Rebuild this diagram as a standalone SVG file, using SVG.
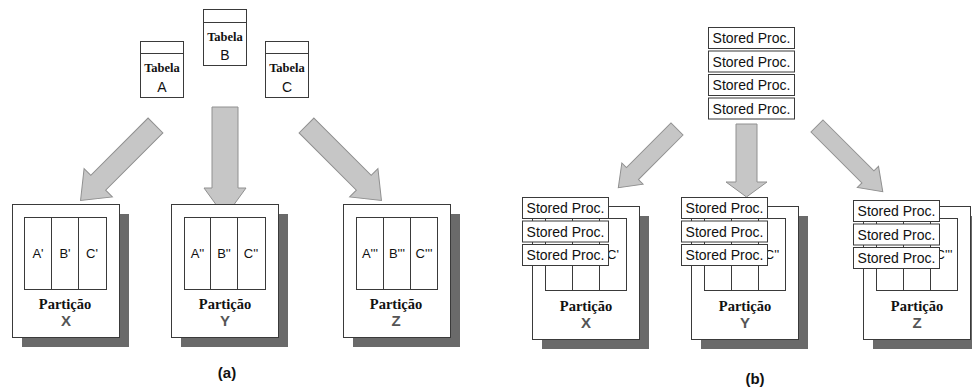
<svg xmlns="http://www.w3.org/2000/svg" width="972" height="388" viewBox="0 0 972 388">
  <style>
    .box { fill: #ffffff; stroke: #3a3a3a; stroke-width: 1; }
    .shadow { fill: #6a6a6a; stroke: none; }
    .line { stroke: #3a3a3a; stroke-width: 1; fill: none; }
    .arrow { fill: #c6c6c6; stroke: #909090; stroke-width: 1; }
    .tab { font-family: "Liberation Serif", "Times New Roman", serif; font-weight: bold; font-size: 12.5px; fill: #111; text-anchor: middle; }
    .letter { font-family: "Liberation Sans", Arial, sans-serif; font-size: 14px; fill: #111; text-anchor: middle; }
    .col { font-family: "Liberation Sans", Arial, sans-serif; font-size: 13px; fill: #111; text-anchor: middle; }
    .part { font-family: "Liberation Serif", "Times New Roman", serif; font-weight: bold; font-size: 14.5px; fill: #111; text-anchor: middle; }
    .pid { font-family: "Liberation Sans", Arial, sans-serif; font-weight: bold; font-size: 15px; fill: #555; text-anchor: middle; }
    .sp { font-family: "Liberation Sans", Arial, sans-serif; font-size: 14px; fill: #111; text-anchor: middle; }
    .cap { font-family: "Liberation Sans", Arial, sans-serif; font-weight: bold; font-size: 15px; fill: #111; text-anchor: middle; }
  </style>
  <rect width="972" height="388" fill="#ffffff"/>

  <!-- (a) connectors: table arrows -->
  <g id="connectors-a">
    <polygon class="arrow" transform="translate(155.5,125.5) rotate(135)" points="0,-10.5 81,-10.5 81,-20 106,0 81,20 81,10.5 0,10.5"/>
    <polygon class="arrow" points="212,107 238,107 238,188 246,188 225,217 204,188 212,188"/>
    <polygon class="arrow" transform="translate(306.5,125.5) rotate(45)" points="0,-10.5 81,-10.5 81,-20 106,0 81,20 81,10.5 0,10.5"/>
  </g>

  <!-- (a) tables -->
  <g id="tabela-a">
    <rect class="box" x="140.5" y="41.5" width="43" height="56"/>
    <line class="line" x1="140.5" y1="53.5" x2="183.5" y2="53.5"/>
    <text class="tab" x="162" y="72">Tabela</text>
    <text class="letter" x="162" y="92">A</text>
  </g>
  <g id="tabela-b">
    <rect class="box" x="203.5" y="9.5" width="43" height="56"/>
    <line class="line" x1="203.5" y1="22.5" x2="246.5" y2="22.5"/>
    <text class="tab" x="225" y="41">Tabela</text>
    <text class="letter" x="225" y="60">B</text>
  </g>
  <g id="tabela-c">
    <rect class="box" x="265.5" y="41.5" width="43" height="56"/>
    <line class="line" x1="265.5" y1="53.5" x2="308.5" y2="53.5"/>
    <text class="tab" x="287" y="72">Tabela</text>
    <text class="letter" x="287" y="92">C</text>
  </g>

  <!-- (a) partitions -->
  <g id="particao-x-a">
    <rect class="shadow" x="22" y="214" width="107" height="133"/>
    <rect class="box" x="12.5" y="204.5" width="107" height="133"/>
    <rect class="box" x="24.5" y="217.5" width="82" height="72"/>
    <line class="line" x1="51.5" y1="217.5" x2="51.5" y2="289.5"/>
    <line class="line" x1="78.5" y1="217.5" x2="78.5" y2="289.5"/>
    <text class="col" x="38" y="258">A'</text>
    <text class="col" x="65" y="258">B'</text>
    <text class="col" x="92" y="258">C'</text>
    <text class="part" x="65" y="309">Partição</text>
    <text class="pid" x="66" y="325.5">X</text>
  </g>
  <g id="particao-y-a">
    <rect class="shadow" x="181" y="214" width="107" height="133"/>
    <rect class="box" x="171.5" y="204.5" width="107" height="133"/>
    <rect class="box" x="184.5" y="217.5" width="81" height="72"/>
    <line class="line" x1="210.5" y1="217.5" x2="210.5" y2="289.5"/>
    <line class="line" x1="237.5" y1="217.5" x2="237.5" y2="289.5"/>
    <text class="col" x="197.5" y="258">A''</text>
    <text class="col" x="224" y="258">B''</text>
    <text class="col" x="251" y="258">C''</text>
    <text class="part" x="225" y="309">Partição</text>
    <text class="pid" x="225" y="325.5">Y</text>
  </g>
  <g id="particao-z-a">
    <rect class="shadow" x="353" y="214" width="107" height="133"/>
    <rect class="box" x="343.5" y="204.5" width="107" height="133"/>
    <rect class="box" x="356.5" y="217.5" width="81" height="72"/>
    <line class="line" x1="383.5" y1="217.5" x2="383.5" y2="289.5"/>
    <line class="line" x1="410.5" y1="217.5" x2="410.5" y2="289.5"/>
    <text class="col" x="370" y="258">A'''</text>
    <text class="col" x="397" y="258">B'''</text>
    <text class="col" x="424" y="258">C'''</text>
    <text class="part" x="396" y="309">Partição</text>
    <text class="pid" x="396" y="325.5">Z</text>
  </g>

  <text class="cap" x="227" y="378">(a)</text>

  <!-- (b) connectors: stored procedure arrows -->
  <g id="connectors-b">
    <polygon class="arrow" transform="translate(677,129) rotate(135)" points="0,-8.5 63,-8.5 63,-15 83,0 63,15 63,8.5 0,8.5"/>
    <polygon class="arrow" points="736,124 757,124 757,182 767,182 746.5,197 726,182 736,182"/>
    <polygon class="arrow" transform="translate(817,126) rotate(45)" points="0,-8.5 72,-8.5 72,-15 93,0 72,15 72,8.5 0,8.5"/>
  </g>

  <!-- (b) stored procedure stack -->
  <g id="stored-procs">
    <rect class="box" x="708.5" y="27.5" width="86" height="21"/>
    <text class="sp" x="751.5" y="43">Stored Proc.</text>
    <rect class="box" x="708.5" y="51" width="86" height="21"/>
    <text class="sp" x="751.5" y="66.5">Stored Proc.</text>
    <rect class="box" x="708.5" y="74.5" width="86" height="21"/>
    <text class="sp" x="751.5" y="90">Stored Proc.</text>
    <rect class="box" x="708.5" y="98" width="86" height="21"/>
    <text class="sp" x="751.5" y="113.5">Stored Proc.</text>
  </g>

  <!-- (b) partitions, with the stored procedures laid over the table columns -->
  <g id="particao-x-b">
    <rect class="shadow" x="542" y="216" width="107" height="133"/>
    <rect class="box" x="532.5" y="206.5" width="107" height="133"/>
    <rect class="box" x="545.5" y="218.5" width="81" height="72"/>
    <line class="line" x1="572.5" y1="218.5" x2="572.5" y2="290.5"/>
    <line class="line" x1="599.5" y1="218.5" x2="599.5" y2="290.5"/>
    <text class="col" x="613" y="259">C'</text>
    <rect class="box" x="522.5" y="197.5" width="86" height="21"/>
    <text class="sp" x="565.5" y="213">Stored Proc.</text>
    <rect class="box" x="522.5" y="221" width="86" height="21"/>
    <text class="sp" x="565.5" y="236.5">Stored Proc.</text>
    <rect class="box" x="522.5" y="244.5" width="86" height="21"/>
    <text class="sp" x="565.5" y="260">Stored Proc.</text>
    <text class="part" x="586" y="311">Partição</text>
    <text class="pid" x="586" y="327.5">X</text>
  </g>
  <g id="particao-y-b">
    <rect class="shadow" x="701" y="216" width="107" height="133"/>
    <rect class="box" x="691.5" y="206.5" width="107" height="133"/>
    <rect class="box" x="704.5" y="218.5" width="81" height="72"/>
    <line class="line" x1="731.5" y1="218.5" x2="731.5" y2="290.5"/>
    <line class="line" x1="758.5" y1="218.5" x2="758.5" y2="290.5"/>
    <text class="col" x="772" y="259">C''</text>
    <rect class="box" x="681.5" y="197.5" width="86" height="21"/>
    <text class="sp" x="724.5" y="213">Stored Proc.</text>
    <rect class="box" x="681.5" y="221" width="86" height="21"/>
    <text class="sp" x="724.5" y="236.5">Stored Proc.</text>
    <rect class="box" x="681.5" y="244.5" width="86" height="21"/>
    <text class="sp" x="724.5" y="260">Stored Proc.</text>
    <text class="part" x="745" y="311">Partição</text>
    <text class="pid" x="745" y="327.5">Y</text>
  </g>
  <g id="particao-z-b">
    <rect class="shadow" x="873" y="216" width="107" height="133"/>
    <rect class="box" x="863.5" y="206.5" width="107" height="133"/>
    <rect class="box" x="876.5" y="218.5" width="81" height="72"/>
    <line class="line" x1="903.5" y1="218.5" x2="903.5" y2="290.5"/>
    <line class="line" x1="930.5" y1="218.5" x2="930.5" y2="290.5"/>
    <text class="col" x="944" y="259">C'''</text>
    <rect class="box" x="853.5" y="200.5" width="86" height="21"/>
    <text class="sp" x="896.5" y="216">Stored Proc.</text>
    <rect class="box" x="853.5" y="224" width="86" height="21"/>
    <text class="sp" x="896.5" y="239.5">Stored Proc.</text>
    <rect class="box" x="853.5" y="247.5" width="86" height="21"/>
    <text class="sp" x="896.5" y="263">Stored Proc.</text>
    <text class="part" x="917" y="311">Partição</text>
    <text class="pid" x="917" y="327.5">Z</text>
  </g>

  <text class="cap" x="755" y="384">(b)</text>
</svg>
